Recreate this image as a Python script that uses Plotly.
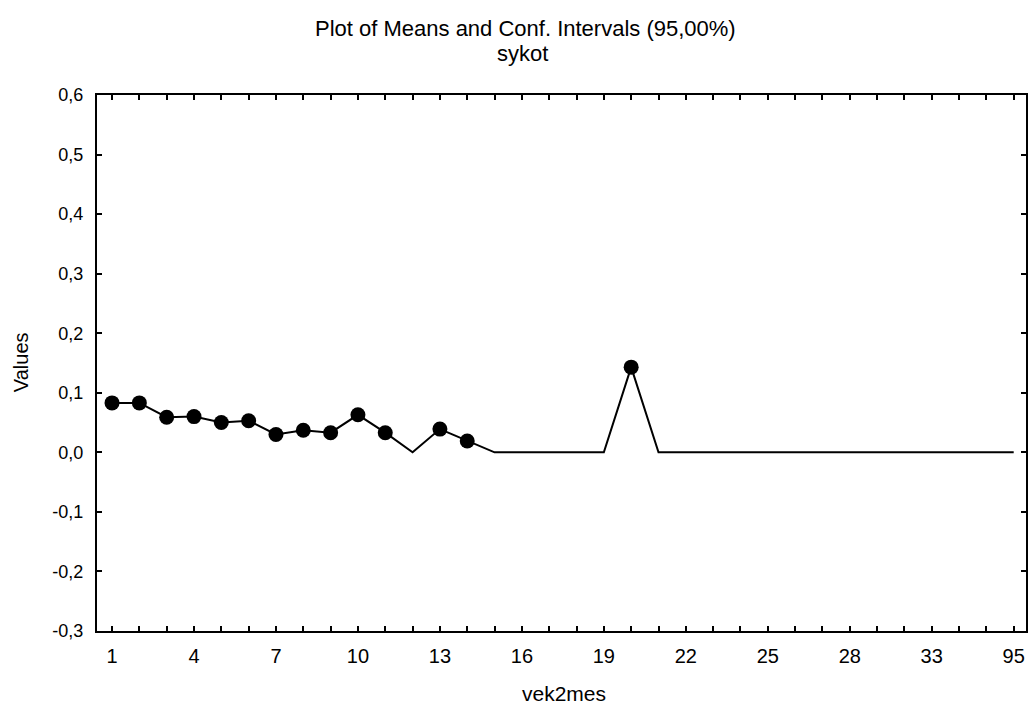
import plotly.graph_objects as go

# vek2mes categories (in plotting order) and mean of sykot per category
categories = ["1", "2", "3", "4", "5", "6", "7", "8", "9", "10",
              "11", "12", "13", "14", "15", "16", "17", "18", "19", "20",
              "21", "22", "23", "24", "25", "26", "27", "28", "29", "31",
              "33", "35", "48", "95"]
means = [0.083, 0.083, 0.059, 0.060, 0.050, 0.053, 0.030, 0.037, 0.033, 0.063,
         0.033, 0.000, 0.039, 0.019, 0.000, 0.000, 0.000, 0.000, 0.000, 0.143,
         0.000, 0.000, 0.000, 0.000, 0.000, 0.000, 0.000, 0.000, 0.000, 0.000,
         0.000, 0.000, 0.000, 0.000]

y_ticks = [-0.3, -0.2, -0.1, 0.0, 0.1, 0.2, 0.3, 0.4, 0.5, 0.6]
y_tick_text = ["-0,3", "-0,2", "-0,1", "0,0", "0,1", "0,2", "0,3", "0,4", "0,5", "0,6"]

FONT = "Liberation Sans, Arial, sans-serif"

positions = list(range(len(categories)))
x_tick_text = [c if i % 3 == 0 else "" for i, c in enumerate(categories)]
# categories with a zero mean carry no interval, so no point marker is drawn
marker_sizes = [15 if m > 0 else 0 for m in means]

fig = go.Figure()
fig.add_trace(go.Scatter(
    x=positions, y=means, mode="lines+markers",
    line=dict(color="black", width=2),
    marker=dict(color="black", size=marker_sizes, opacity=1, line=dict(width=0)),
    hoverinfo="x+y", showlegend=False,
))

W, H = 1030, 706
L, R, T, B = 97, 2, 95, 75
PH = H - T - B
PW = W - L - R


def py(pix):
    return (H - B - pix) / PH


def px(pix):
    return (pix - L) / PW


annotations = [
    dict(text="Plot of Means and Conf. Intervals (95,00%)", x=px(526), y=py(28),
         font=dict(size=22)),
    dict(text="sykot", x=px(523), y=py(54), font=dict(size=22)),
    dict(text="vek2mes", x=px(565), y=py(693), font=dict(size=21)),
    dict(text="Values", x=px(21), y=py(362), font=dict(size=20), textangle=-90),
]
for a in annotations:
    a.update(xref="paper", yref="paper", xanchor="center", yanchor="middle",
             showarrow=False)
    a["font"].update(family=FONT, color="black")

axis_common = dict(
    showline=True, linecolor="black", linewidth=2, mirror="allticks",
    ticks="inside", ticklen=5, tickwidth=1.5, tickcolor="black",
    showgrid=False, zeroline=False,
)

fig.update_layout(
    width=W, height=H,
    margin=dict(l=L, r=R, t=T, b=B),
    paper_bgcolor="white", plot_bgcolor="white",
    font=dict(family=FONT, color="black"),
    annotations=annotations,
    xaxis=dict(
        range=[-0.55, len(categories) - 0.55],
        tickmode="array", tickvals=positions, ticktext=x_tick_text,
        tickfont=dict(size=20), ticklabelstandoff=6,
        **axis_common,
    ),
    yaxis=dict(
        range=[-0.3, 0.6],
        tickmode="array", tickvals=y_ticks, ticktext=y_tick_text,
        tickfont=dict(size=18), ticklabelstandoff=8,
        **axis_common,
    ),
)

fig.write_html("out.html")
